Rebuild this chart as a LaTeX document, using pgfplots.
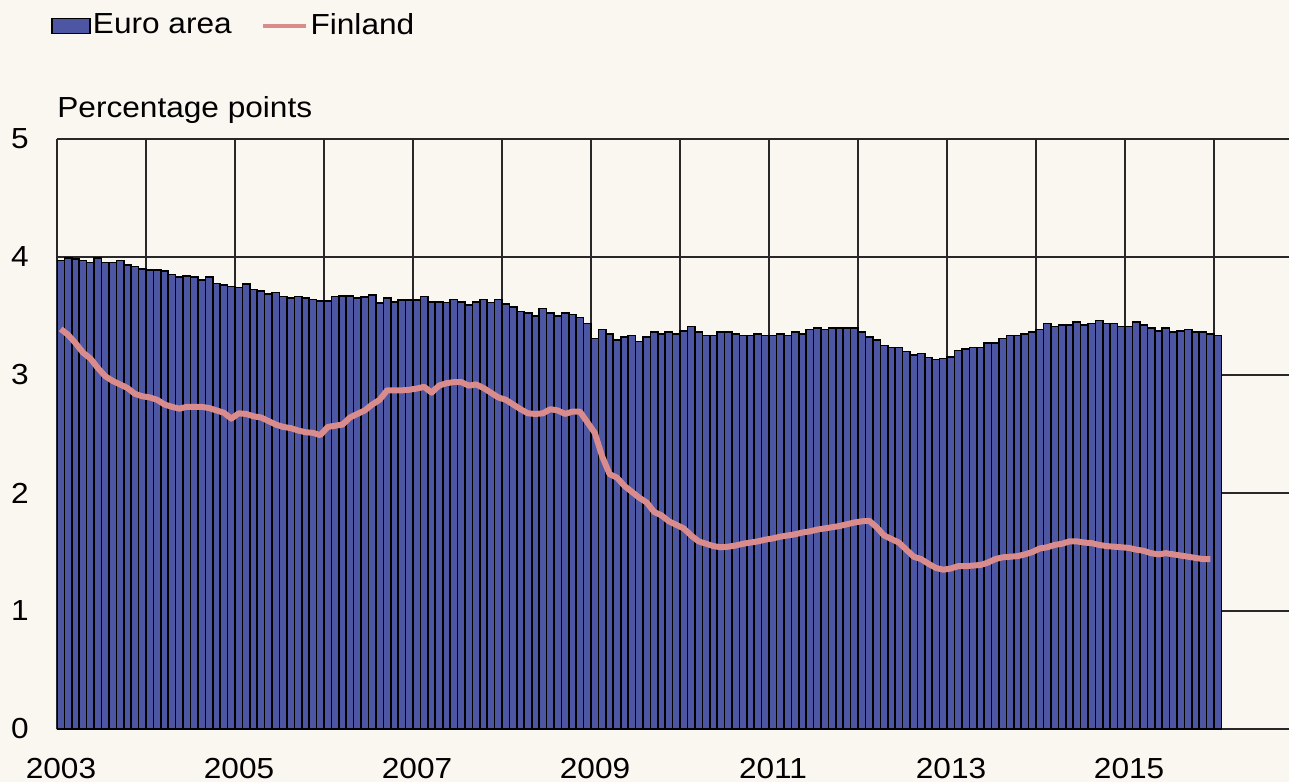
\documentclass[border=0pt]{standalone}
\usepackage{pgfplots}
\usepackage{pgfplotstable}
\pgfplotsset{compat=1.18}
\usepackage{fontspec}
\setmainfont{Liberation Sans}[FakeStretch=1.09]
\definecolor{cream}{RGB}{250,246,240}
\definecolor{eurob}{RGB}{76,86,162}
\definecolor{fin}{RGB}{218,140,140}
\definecolor{gridc}{RGB}{40,40,40}

% Euro area, monthly Jan 2003 - Jan 2016 (last row repeated for ybar interval)
\pgfplotstableread{
v
3.97
3.99
3.985
3.97
3.955
3.99
3.955
3.955
3.97
3.93
3.92
3.90
3.89
3.89
3.88
3.85
3.83
3.84
3.83
3.805
3.83
3.775
3.765
3.75
3.74
3.77
3.725
3.71
3.685
3.70
3.665
3.65
3.665
3.65
3.64
3.625
3.625
3.665
3.67
3.67
3.65
3.66
3.68
3.61
3.65
3.62
3.635
3.635
3.635
3.665
3.62
3.62
3.613
3.641
3.621
3.593
3.621
3.641
3.616
3.641
3.602
3.576
3.537
3.525
3.50
3.565
3.525
3.50
3.525
3.514
3.488
3.438
3.311
3.384
3.347
3.297
3.322
3.336
3.283
3.322
3.362
3.347
3.362
3.347
3.373
3.412
3.362
3.336
3.336
3.362
3.362
3.347
3.336
3.336
3.347
3.336
3.336
3.347
3.336
3.362
3.347
3.384
3.398
3.384
3.398
3.40
3.40
3.40
3.362
3.322
3.297
3.249
3.232
3.232
3.198
3.169
3.181
3.147
3.133
3.141
3.155
3.209
3.220
3.232
3.232
3.271
3.271
3.311
3.336
3.336
3.347
3.362
3.387
3.438
3.412
3.424
3.424
3.449
3.424
3.438
3.463
3.438
3.438
3.412
3.412
3.449
3.424
3.398
3.373
3.398
3.362
3.373
3.387
3.362
3.362
3.350
3.336
3.336
}\euro

% Finland, monthly Jan 2003 - Dec 2015
\pgfplotstableread{
v
3.39
3.34
3.27
3.19
3.14
3.06
2.99
2.95
2.92
2.89
2.84
2.82
2.81
2.79
2.75
2.73
2.715
2.73
2.73
2.73
2.72
2.70
2.68
2.63
2.675
2.67
2.65
2.64
2.61
2.58
2.56
2.55
2.53
2.515
2.51
2.49
2.56
2.57
2.58
2.64
2.67
2.70
2.75
2.79
2.87
2.87
2.87
2.875
2.885
2.90
2.85
2.91
2.93
2.94
2.94
2.91
2.92
2.89
2.85
2.81
2.79
2.75
2.71
2.675
2.67
2.675
2.71
2.70
2.67
2.69
2.69
2.60
2.51
2.31
2.16
2.13
2.06
2.01
1.96
1.92
1.84
1.81
1.76
1.73
1.70
1.64
1.59
1.57
1.55
1.54
1.545
1.555
1.57
1.58
1.59
1.605
1.615
1.63
1.64
1.65
1.665
1.675
1.69
1.70
1.71
1.72
1.735
1.75
1.76
1.765
1.71
1.64
1.61
1.58
1.52
1.46
1.44
1.40
1.365
1.35
1.36
1.38
1.38
1.385
1.39
1.41
1.44
1.455
1.46
1.465
1.48
1.50
1.53
1.54
1.56
1.57
1.59
1.59
1.58
1.575
1.56
1.55
1.545
1.54
1.535
1.52
1.51
1.49
1.48
1.49
1.48
1.47
1.46
1.45
1.44
1.44
}\fin

\begin{document}
\fontsize{14.5}{17}\selectfont
\begin{tikzpicture}
\path[use as bounding box, fill=cream] (-28.5pt,-26.5pt) rectangle (616pt,364.5pt);
\begin{axis}[
  name=ax,
  at={(0pt,0pt)}, anchor=south west,
  scale only axis, width=616pt, height=295pt,
  xmin=0, xmax=166.1, ymin=0, ymax=5,
  axis line style={draw=none},
  xtick={0,12,...,156},
  xticklabels={2003,,2005,,2007,,2009,,2011,,2013,,2015,},
  ytick={0,1,2,3,4,5},
  major tick length=0pt,
  grid=major,
  major grid style={gridc, line width=0.75pt},
  xticklabel style={anchor=center, yshift=-19.75pt, xshift=2pt},
  yticklabel style={anchor=center, xshift=-18.5pt},
  /pgf/number format/assume math mode=true,
  legend style={draw=none, fill=none, inner sep=0pt,
    at={(axis description cs:-0.0049,1.1915)}, anchor=west,
    legend columns=2,
    /tikz/every even column/.append style={column sep=13.5pt},
    nodes={inner xsep=1.2pt, inner ysep=1pt}},
  legend cell align=left,
]
\addplot[ybar interval, fill=eurob, draw=black, line width=0.8pt,
  legend image code/.code={\draw[fill=eurob, draw=black, line width=0.6pt] (0pt,-3.75pt) rectangle (19pt,3.75pt);}]
  table[x expr=\coordindex, y index=0] {\euro};
\addlegendentry{Euro area}
\addplot[fin, line width=3pt, no markers, line join=round,
  legend image code/.code={\draw[fin, line width=2pt] (0pt,0pt) -- (21.5pt,0pt);}]
  table[x expr=\coordindex+0.5, y index=0] {\fin};
\addlegendentry{Finland}
\end{axis}
\node[anchor=base west, inner sep=0pt, yshift=10.5pt] at (ax.north west) {Percentage points};
\end{tikzpicture}
\end{document}
